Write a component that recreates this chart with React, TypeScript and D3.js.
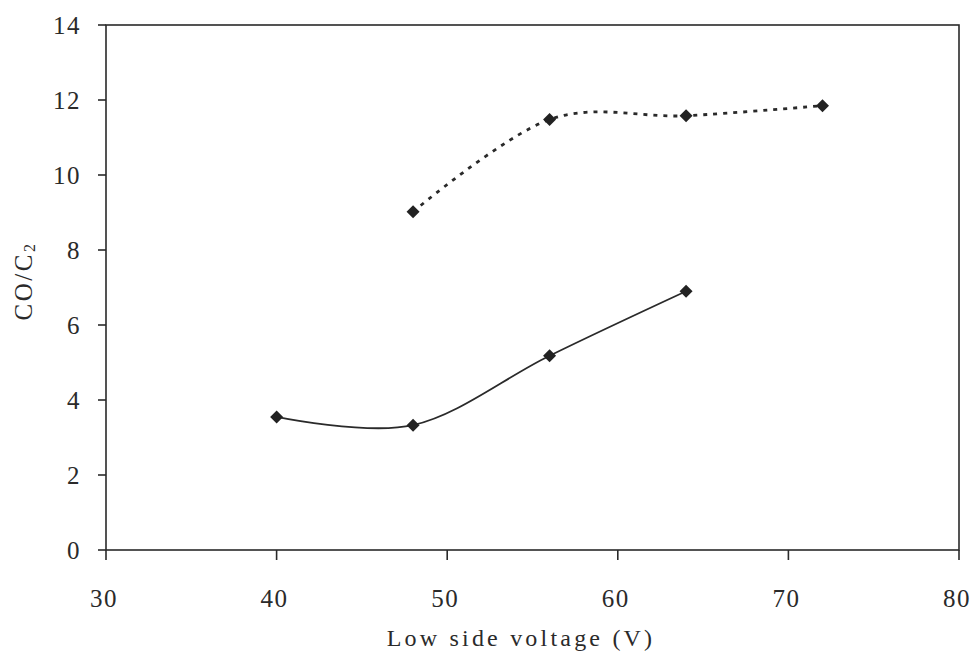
import React from "react";
import * as d3 from "d3";

const solidX = [40, 48, 56, 64];
const solidY = [3.55, 3.33, 5.18, 6.9];
const dottedX = [48, 56, 64, 72];
const dottedY = [9.02, 11.48, 11.58, 11.85];
const xTicks = [30, 40, 50, 60, 70, 80];
const yTicks = [0, 2, 4, 6, 8, 10, 12, 14];
const xTitle = "Low side voltage (V)";

const W = 979;
const H = 655;
const margin = { left: 106, right: 20, top: 25, bottom: 105 };

export default function App() {
  const x = d3.scaleLinear().domain([30, 80]).range([margin.left, 959]);
  const y = d3.scaleLinear().domain([0, 14]).range([550, margin.top]);
  const line = d3
    .line<[number, number]>()
    .x((d) => x(d[0]))
    .y((d) => y(d[1]))
    .curve(d3.curveCardinal.tension(0));
  const solidPts: [number, number][] = solidX.map((v, i) => [v, solidY[i]]);
  const dottedPts: [number, number][] = dottedX.map((v, i) => [v, dottedY[i]]);
  const diamond = (cx: number, cy: number, r = 6.5) =>
    `M${cx},${cy - r}L${cx + r},${cy}L${cx},${cy + r}L${cx - r},${cy}Z`;
  const font = "'Liberation Serif', 'Times New Roman', serif";
  const ink = "#2a2a2a";
  return (
    <svg
      width={W}
      height={H}
      style={{ position: "absolute", left: 0, top: 0, background: "#fff" }}
    >
      <rect
        x={x(30)}
        y={y(14)}
        width={x(80) - x(30)}
        height={y(0) - y(14)}
        fill="none"
        stroke={ink}
        strokeWidth={1.6}
      />
      {yTicks.map((t) => (
        <g key={"y" + t}>
          <line x1={x(30) - 8} x2={x(30)} y1={y(t)} y2={y(t)} stroke={ink} strokeWidth={1.6} />
          <text
            x={81}
            y={y(t)}
            dy="0.35em"
            textAnchor="end"
            fontFamily={font}
            fontSize={25}
            letterSpacing={1.5}
            fill={ink}
          >
            {t}
          </text>
        </g>
      ))}
      {xTicks.map((t) => (
        <g key={"x" + t}>
          <line x1={x(t)} x2={x(t)} y1={y(0)} y2={y(0) + 10} stroke={ink} strokeWidth={1.6} />
          <text
            x={x(t) - 2}
            y={607}
            textAnchor="middle"
            fontFamily={font}
            fontSize={25}
            letterSpacing={1.5}
            fill={ink}
          >
            {t}
          </text>
        </g>
      ))}
      <text
        x={521}
        y={646}
        textAnchor="middle"
        fontFamily={font}
        fontSize={24}
        letterSpacing={3.2}
        fill={ink}
      >
        {xTitle}
      </text>
      <text
        transform="translate(32,281) rotate(-90)"
        textAnchor="middle"
        fontFamily={font}
        fontSize={25}
        letterSpacing={2.5}
        fill={ink}
      >
        CO/C
        <tspan fontSize={16} dy={3}>2</tspan>
      </text>
      <path d={line(solidPts) || ""} fill="none" stroke={ink} strokeWidth={1.8} />
      <path
        d={line(dottedPts) || ""}
        fill="none"
        stroke={ink}
        strokeWidth={2.8}
        strokeDasharray="4,6"
      />
      {solidPts.map((p, i) => (
        <path key={"s" + i} d={diamond(x(p[0]), y(p[1]))} fill="#222" />
      ))}
      {dottedPts.map((p, i) => (
        <path key={"d" + i} d={diamond(x(p[0]), y(p[1]))} fill="#222" />
      ))}
    </svg>
  );
}
